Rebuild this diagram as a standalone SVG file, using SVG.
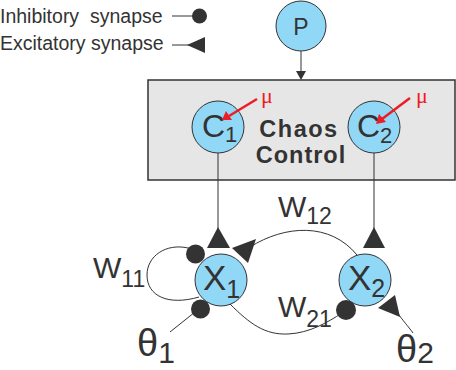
<svg xmlns="http://www.w3.org/2000/svg" width="456" height="370" viewBox="0 0 456 370">
<defs>
<style>
text{font-family:"Liberation Sans",Arial,sans-serif;fill:#333}
.leg{font-size:19.5px;white-space:pre}
.node{fill:#91d8f7;stroke:#333;stroke-width:1}
.ln{fill:none;stroke:#333;stroke-width:1}
.dark{fill:#333;stroke:none}
.red{stroke:#ee1c24;stroke-width:2.5;fill:none}
.redfill{fill:#ee1c24}
.mu{font-family:"Liberation Serif","Times New Roman",serif;font-size:22px;fill:#ee1c24}
</style>
</defs>
<rect width="456" height="370" fill="#fff"/>
<g id="legend">
<text class="leg" x="0" y="23">Inhibitory  synapse</text>
<line class="ln" x1="172" y1="16" x2="193" y2="16" stroke-width="1.2"/>
<circle class="dark" cx="199.5" cy="16" r="7.5"/>
<text class="leg" x="0" y="50">Excitatory synapse</text>
<line class="ln" x1="172" y1="45" x2="190" y2="45" stroke-width="1.2"/>
<polygon class="dark" points="187,45 205,37 205,53"/>
</g>
<g id="chaos-control">
<rect x="148" y="80" width="307" height="100" fill="#e6e6e6" stroke="#333" stroke-width="1.5"/>
<text x="299" y="137" text-anchor="middle" font-size="23.5" font-weight="bold" letter-spacing="1.5">Chaos</text>
<text x="301" y="163" text-anchor="middle" font-size="23.5" font-weight="bold" letter-spacing="1">Control</text>
</g>
<g id="P">
<circle class="node" cx="301" cy="26" r="25"/>
<text x="301" y="35" text-anchor="middle" font-size="23">P</text>
</g>
<g id="C1">
<circle class="node" cx="218" cy="127" r="26"/>
<text x="202" y="137" font-size="32">C<tspan font-size="22" dy="5">1</tspan></text>
<line class="red" x1="257" y1="99" x2="229" y2="116"/>
<polygon class="redfill" points="222,120 226,111 232,120"/>
<text class="mu" x="261" y="103">μ</text>
</g>
<g id="C2">
<circle class="node" cx="374" cy="127" r="26"/>
<text x="357" y="137" font-size="32">C<tspan font-size="22" dy="6">2</tspan></text>
<line class="red" x1="410" y1="98" x2="382" y2="119"/>
<polygon class="redfill" points="376,124 379,114 386,122"/>
<text class="mu" x="416" y="103">μ</text>
</g>
<g id="X1">
<circle class="node" cx="221" cy="280" r="26"/>
<text x="203" y="290" font-size="35">X<tspan font-size="25" dy="8">1</tspan></text>
</g>
<g id="X2">
<circle class="node" cx="365" cy="280" r="26"/>
<text x="348" y="290" font-size="35">X<tspan font-size="25" dy="7">2</tspan></text>
</g>
<g id="connectors">
<line class="ln" x1="301" y1="51" x2="301" y2="73"/>
<polygon class="dark" points="296,71 306,71 301,80"/>
<line class="ln" x1="218" y1="153" x2="218" y2="230"/>
<polygon class="dark" points="218,227 207,248 230,248"/>
<line class="ln" x1="374" y1="153" x2="374" y2="230"/>
<polygon class="dark" points="374,227 363,248 385,248"/>
<path class="ln" d="M357,255 C330,222 285,225 250,247"/>
<polygon class="dark" points="232,248 256,239 248,263"/>
<path class="ln" d="M188,248 C166,243 147,256 147,275 C147,296 168,306 199,297"/>
<circle class="dark" cx="195.5" cy="254" r="9.5"/>
<line class="ln" x1="170" y1="332" x2="195" y2="312"/>
<circle class="dark" cx="200.5" cy="309" r="9.5"/>
<path class="ln" d="M230,304 C250,324 265,335 288,334 C310,333 328,322 342,313"/>
<circle class="dark" cx="346" cy="310" r="10"/>
<path class="ln" d="M413,333 C408,326 403,321 397,312"/>
<polygon class="dark" points="378,308 395,295 400,317"/>
</g>
<g id="labels">
<text x="278" y="217" font-size="30">W<tspan font-size="23" dy="7">12</tspan></text>
<text x="93" y="278" font-size="30">W<tspan font-size="23" dy="9">11</tspan></text>
<text x="278" y="317" font-size="30">W<tspan font-size="23" dy="10">21</tspan></text>
<text x="137" y="356" font-size="38">θ<tspan font-size="30" dy="7">1</tspan></text>
<text x="396" y="362" font-size="38">θ<tspan font-size="30" dy="1">2</tspan></text>
</g>
</svg>
